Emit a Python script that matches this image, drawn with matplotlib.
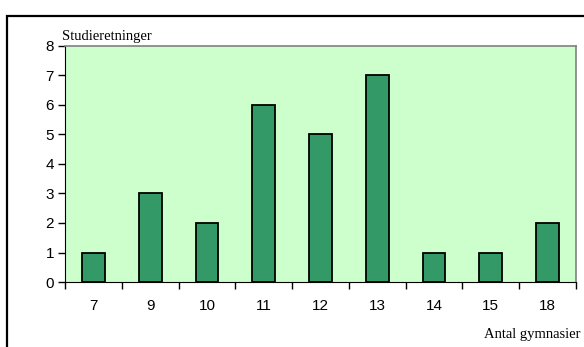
import matplotlib.pyplot as plt
from matplotlib.patches import Rectangle
import numpy as np

plt.rcParams['font.family'] = ['Liberation Sans', 'DejaVu Sans']

gymnasier = ['7', '9', '10', '11', '12', '13', '14', '15', '18']
studieretninger = [1, 3, 2, 6, 5, 7, 1, 1, 2]

fig = plt.figure(figsize=(5.84, 3.47), dpi=100)
ax = fig.add_axes([65 / 584, 65 / 347, 511 / 584, 236 / 347])

# outer frame (only top and left visible)
fig.patches.append(Rectangle((7 / 584, -0.1), 1.2, 0.1 + 1 - 16 / 347, transform=fig.transFigure,
                             fill=False, edgecolor='black', linewidth=1.6))

x = np.arange(len(gymnasier))
ax.set_facecolor('#CCFFCC')
ax.bar(x, studieretninger, width=0.4, color='#339966', edgecolor='black', linewidth=1.3, zorder=3)

ax.set_xlim(-0.5, len(gymnasier) - 0.5)
ax.set_ylim(0, 8)
ax.set_yticks(range(0, 9))
ax.set_xticks(x)
ax.set_xticklabels(gymnasier)
ax.set_xticks(np.arange(-0.5, len(gymnasier)), minor=True)
ax.tick_params(axis='x', which='major', length=0, pad=12, labelsize=11)
ax.tick_params(axis='x', which='minor', length=5, width=1, direction='out')
ax.tick_params(axis='y', length=5, width=1, direction='out', labelsize=11, pad=3)

for s in ['top', 'right']:
    ax.spines[s].set_color('#808080')
    ax.spines[s].set_linewidth(1.2)
for s in ['left', 'bottom']:
    ax.spines[s].set_color('black')

fig.text(62 / 584, 1 - 40 / 347, 'Studieretninger', family='Liberation Serif', fontsize=10.5, ha='left', va='baseline')
fig.text(580 / 584, 1 - 338 / 347, 'Antal gymnasier', family='Liberation Serif', fontsize=10.5, ha='right', va='baseline')

plt.savefig('out.png', dpi=100)
